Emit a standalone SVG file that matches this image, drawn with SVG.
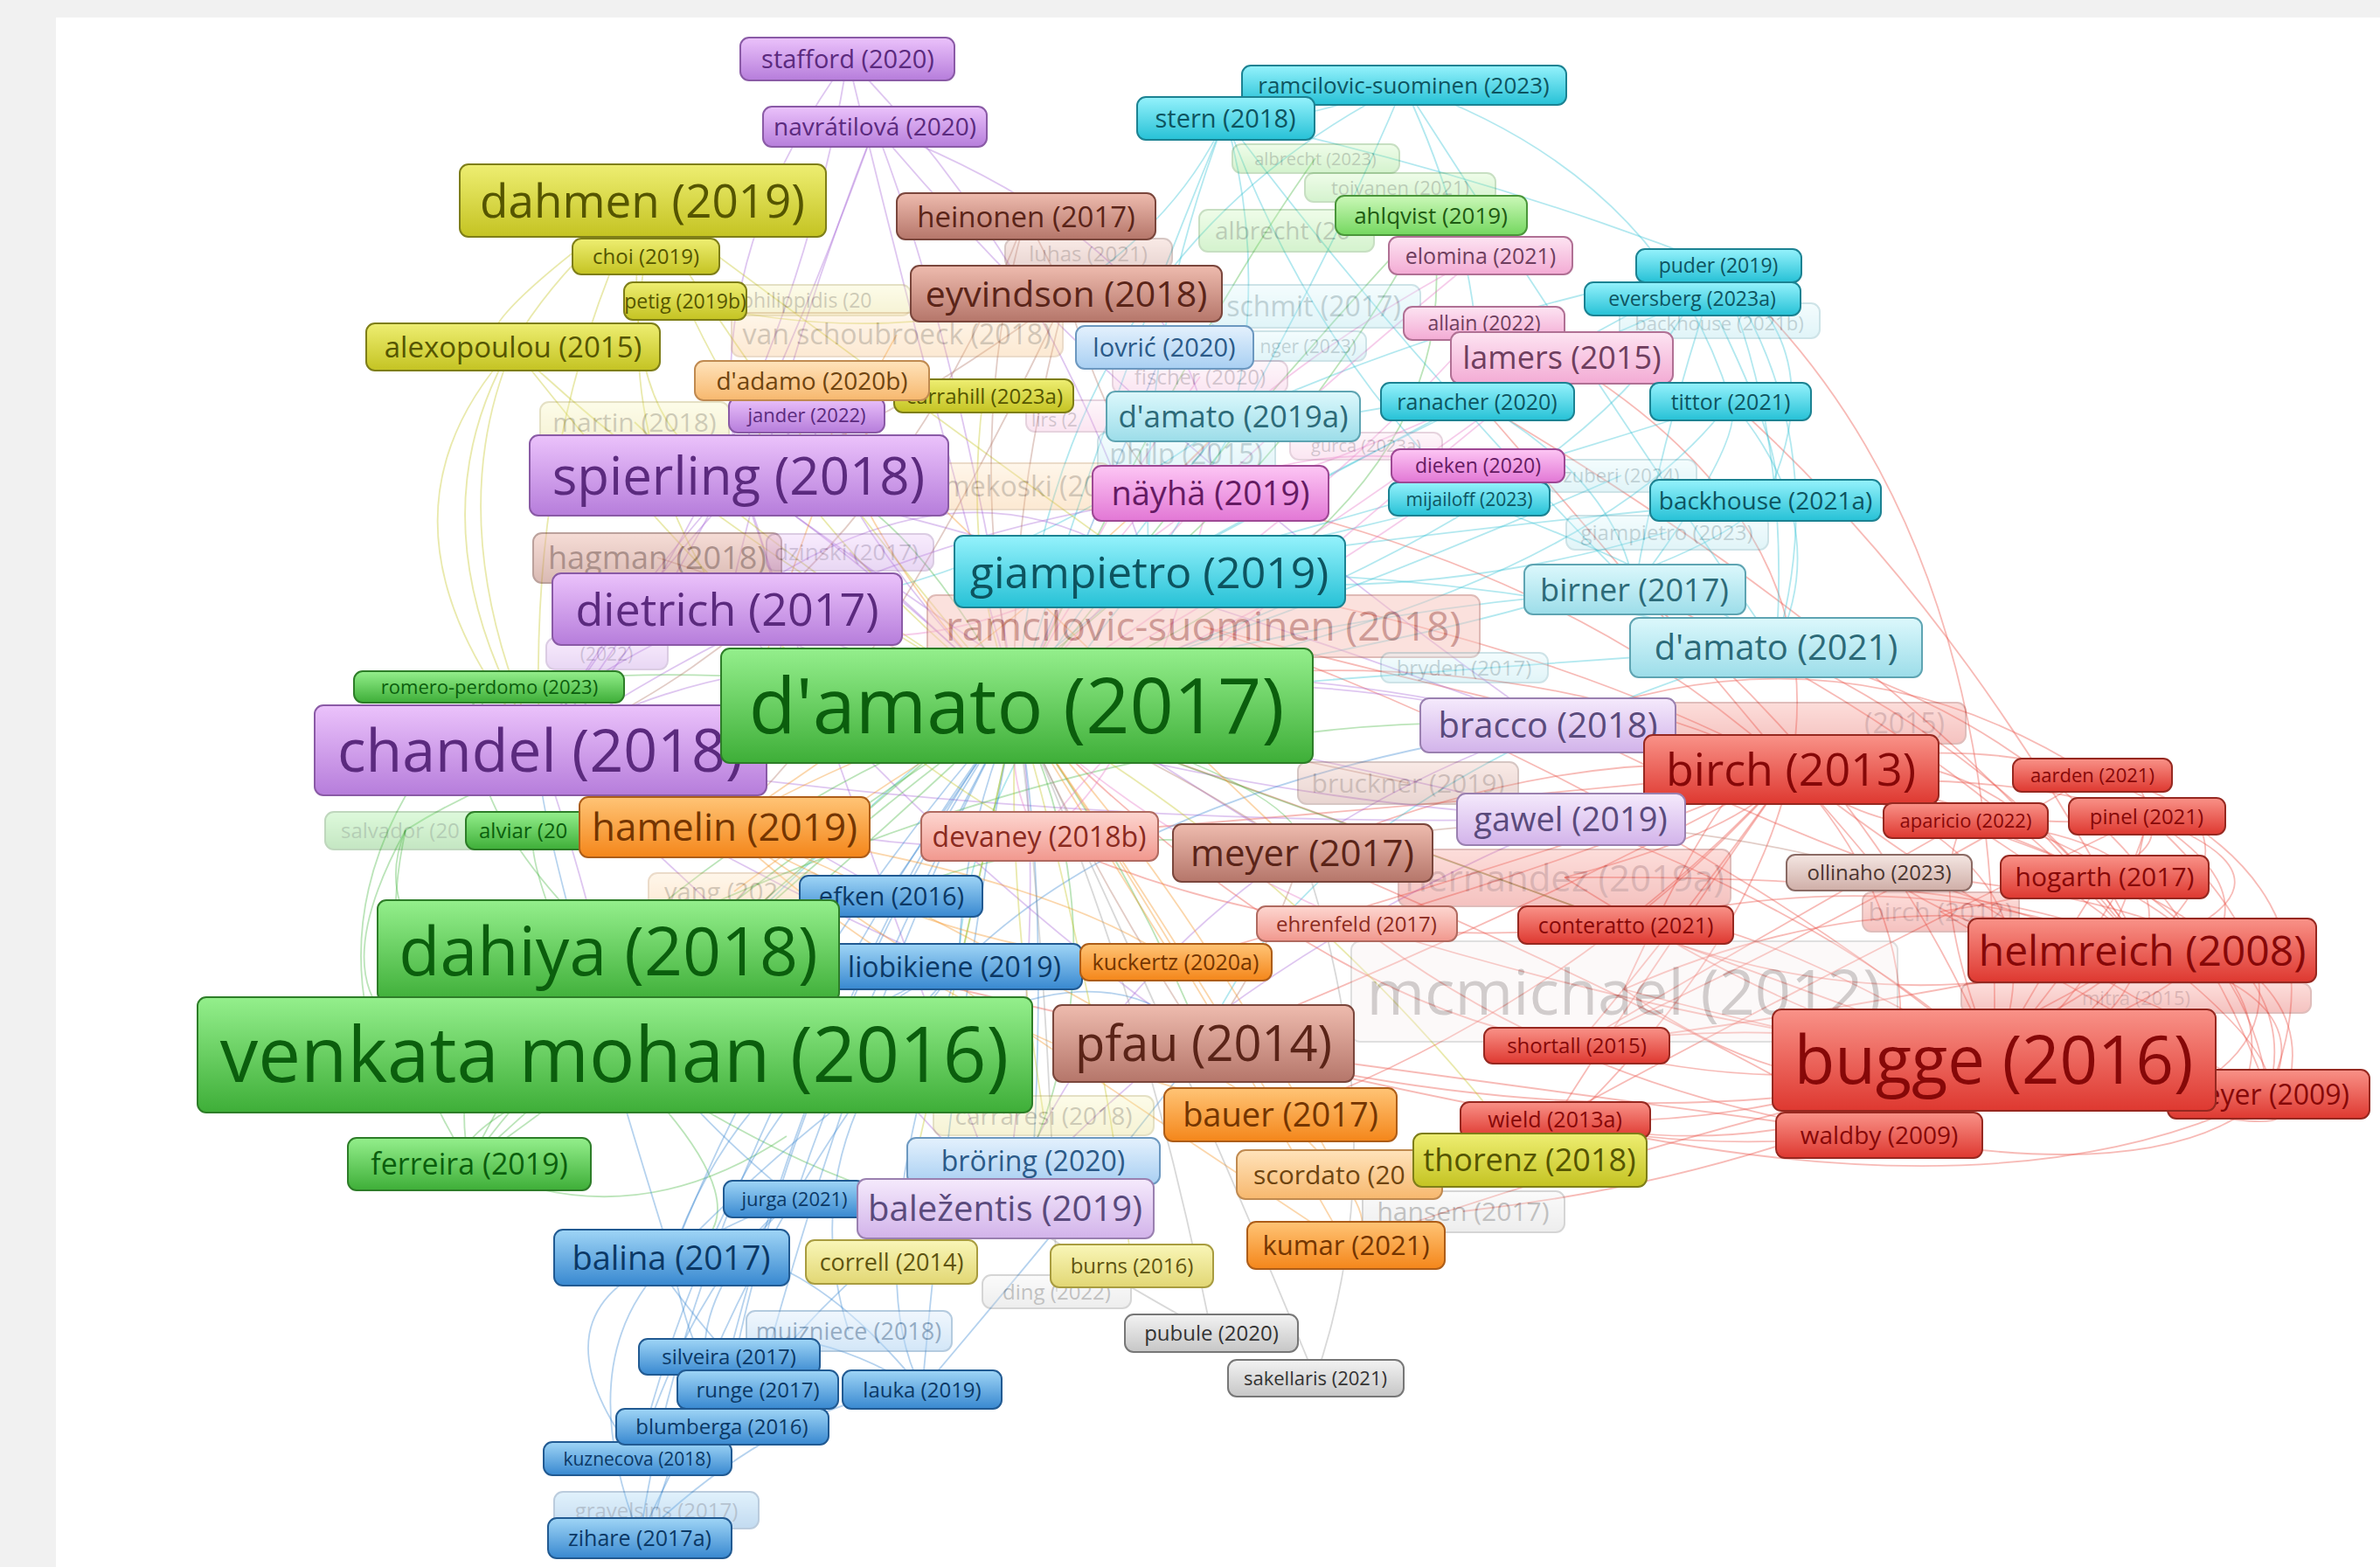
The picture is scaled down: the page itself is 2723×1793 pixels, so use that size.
<svg xmlns="http://www.w3.org/2000/svg" width="2723" height="1793" viewBox="0 0 2723 1793">
<defs>
<linearGradient id="gp" x1="0" y1="0" x2="0" y2="1"><stop offset="0" stop-color="#ebc2fb"/><stop offset="1" stop-color="#b67ddb"/></linearGradient>
<linearGradient id="gg" x1="0" y1="0" x2="0" y2="1"><stop offset="0" stop-color="#94ef8c"/><stop offset="1" stop-color="#3eae38"/></linearGradient>
<linearGradient id="gy" x1="0" y1="0" x2="0" y2="1"><stop offset="0" stop-color="#eeee72"/><stop offset="1" stop-color="#c4c322"/></linearGradient>
<linearGradient id="gn" x1="0" y1="0" x2="0" y2="1"><stop offset="0" stop-color="#eebbae"/><stop offset="1" stop-color="#b5766a"/></linearGradient>
<linearGradient id="gc" x1="0" y1="0" x2="0" y2="1"><stop offset="0" stop-color="#95f2fc"/><stop offset="1" stop-color="#26c1d6"/></linearGradient>
<linearGradient id="gl" x1="0" y1="0" x2="0" y2="1"><stop offset="0" stop-color="#dcf8fc"/><stop offset="1" stop-color="#9cdde9"/></linearGradient>
<linearGradient id="gk" x1="0" y1="0" x2="0" y2="1"><stop offset="0" stop-color="#fde4f2"/><stop offset="1" stop-color="#f3abd4"/></linearGradient>
<linearGradient id="gm" x1="0" y1="0" x2="0" y2="1"><stop offset="0" stop-color="#fdc6f4"/><stop offset="1" stop-color="#e277d5"/></linearGradient>
<linearGradient id="gr" x1="0" y1="0" x2="0" y2="1"><stop offset="0" stop-color="#f99288"/><stop offset="1" stop-color="#de3830"/></linearGradient>
<linearGradient id="go" x1="0" y1="0" x2="0" y2="1"><stop offset="0" stop-color="#ffc476"/><stop offset="1" stop-color="#f4861a"/></linearGradient>
<linearGradient id="gq" x1="0" y1="0" x2="0" y2="1"><stop offset="0" stop-color="#ffe3bb"/><stop offset="1" stop-color="#f7b86e"/></linearGradient>
<linearGradient id="gb" x1="0" y1="0" x2="0" y2="1"><stop offset="0" stop-color="#9fd5f6"/><stop offset="1" stop-color="#3888d0"/></linearGradient>
<linearGradient id="gu" x1="0" y1="0" x2="0" y2="1"><stop offset="0" stop-color="#e4f1fd"/><stop offset="1" stop-color="#a8cff2"/></linearGradient>
<linearGradient id="gv" x1="0" y1="0" x2="0" y2="1"><stop offset="0" stop-color="#f5eafc"/><stop offset="1" stop-color="#d2b3ea"/></linearGradient>
<linearGradient id="gs" x1="0" y1="0" x2="0" y2="1"><stop offset="0" stop-color="#fdd6d0"/><stop offset="1" stop-color="#f1988e"/></linearGradient>
<linearGradient id="gw" x1="0" y1="0" x2="0" y2="1"><stop offset="0" stop-color="#f3f3f3"/><stop offset="1" stop-color="#c6c6c6"/></linearGradient>
<linearGradient id="gh" x1="0" y1="0" x2="0" y2="1"><stop offset="0" stop-color="#cbf8b8"/><stop offset="1" stop-color="#74d75f"/></linearGradient>
<linearGradient id="gt" x1="0" y1="0" x2="0" y2="1"><stop offset="0" stop-color="#f4e6e2"/><stop offset="1" stop-color="#cfaea7"/></linearGradient>
<linearGradient id="gx" x1="0" y1="0" x2="0" y2="1"><stop offset="0" stop-color="#f9f6b8"/><stop offset="1" stop-color="#e2d774"/></linearGradient>
</defs>
<style>
.node rect{stroke-width:2;rx:10px;ry:10px}
.node text{font-family:'Open Sans','Liberation Sans',sans-serif;text-anchor:middle}
.node text.s{text-anchor:start}
.node text.e{text-anchor:end}
.f{opacity:.3}
.h{opacity:.5}
.cp rect{fill:url(#gp);stroke:#8a5aa6}.cp text{fill:#5b2a7e}
.cg rect{fill:url(#gg);stroke:#2d7d28}.cg text{fill:#0b5e0d}
.cy rect{fill:url(#gy);stroke:#7e7e18}.cy text{fill:#555500}
.cn rect{fill:url(#gn);stroke:#7a463c}.cn text{fill:#5a2418}
.cc rect{fill:url(#gc);stroke:#1b8292}.cc text{fill:#0d5460}
.cl rect{fill:url(#gl);stroke:#5ea4b2}.cl text{fill:#2c6a78}
.ck rect{fill:url(#gk);stroke:#b07094}.ck text{fill:#6e3e5e}
.cm rect{fill:url(#gm);stroke:#9e4894}.cm text{fill:#641a62}
.cr rect{fill:url(#gr);stroke:#962820}.cr text{fill:#860808}
.co rect{fill:url(#go);stroke:#ad5d18}.co text{fill:#743500}
.cq rect{fill:url(#gq);stroke:#c08a50}.cq text{fill:#6e4410}
.cb rect{fill:url(#gb);stroke:#215a92}.cb text{fill:#0b3865}
.cu rect{fill:url(#gu);stroke:#6c98c0}.cu text{fill:#2b5a88}
.cv rect{fill:url(#gv);stroke:#9a80b0}.cv text{fill:#5a4a7c}
.cs rect{fill:url(#gs);stroke:#b06a60}.cs text{fill:#8a2a20}
.cw rect{fill:url(#gw);stroke:#777}.cw text{fill:#333}
.ch rect{fill:url(#gh);stroke:#4a963a}.ch text{fill:#1e5a12}
.ct rect{fill:url(#gt);stroke:#8a6a64}.ct text{fill:#4a3530}
.cx rect{fill:url(#gx);stroke:#a89c40}.cx text{fill:#5e5410}
.mc rect{fill:#f8ecec;stroke:#999}.mc text{fill:#6a5a5a}
.rs rect{fill:#f8c4bc;stroke:#c07870}.rs text{fill:#a03a30}
#connectors path{fill:none;stroke-width:1.8}
.er{stroke:#ec5a50;stroke-opacity:.42}
.ec{stroke:#35c2d6;stroke-opacity:.38}
.ep{stroke:#a868d8;stroke-opacity:.38}
.eg{stroke:#4cb848;stroke-opacity:.38}
.eb{stroke:#3c8ad2;stroke-opacity:.38}
.eo{stroke:#f59222;stroke-opacity:.38}
.ey{stroke:#c4c424;stroke-opacity:.38}
.ek{stroke:#e878c8;stroke-opacity:.38}
.en{stroke:#b4786a;stroke-opacity:.38}
.ew{stroke:#999;stroke-opacity:.38}
</style>
<rect width="2723" height="1793" fill="#f1f1f1"/>
<rect x="64" y="20" width="2659" height="1773" fill="#ffffff"/>
<g id="connectors">
<path class="er" d="M2049 880 Q2280 820 2451 1087"/>
<path class="er" d="M2049 880 Q2380 980 2281 1213"/>
<path class="er" d="M2049 880 Q2560 960 2595 1252"/>
<path class="er" d="M2049 880 Q2230 1080 2150 1299"/>
<path class="er" d="M2049 880 Q2250 840 2394 887"/>
<path class="er" d="M2049 880 Q2300 960 2456 934"/>
<path class="er" d="M2049 880 Q1960 980 1860 1058"/>
<path class="er" d="M2049 880 Q1920 1060 1804 1196"/>
<path class="er" d="M2049 880 Q1880 1120 1779 1281"/>
<path class="er" d="M2049 880 Q2150 960 2249 939"/>
<path class="er" d="M2049 880 Q2120 960 2150 998"/>
<path class="er" d="M2049 880 Q2260 940 2408 1003"/>
<path class="er" d="M2451 1087 Q2660 1140 2595 1252"/>
<path class="er" d="M2451 1087 Q2420 1200 2281 1213"/>
<path class="er" d="M2451 1087 Q2320 1260 2150 1299"/>
<path class="er" d="M2451 1087 Q2620 930 2394 887"/>
<path class="er" d="M2451 1087 Q2660 1010 2456 934"/>
<path class="er" d="M2451 1087 Q2180 980 1860 1058"/>
<path class="er" d="M2451 1087 Q2100 1160 1804 1196"/>
<path class="er" d="M2451 1087 Q2500 960 2249 939"/>
<path class="er" d="M2451 1087 Q2120 1300 1779 1281"/>
<path class="er" d="M2281 1213 Q2680 1330 2595 1252"/>
<path class="er" d="M2281 1213 Q2040 1160 1804 1196"/>
<path class="er" d="M2281 1213 Q2020 1340 1779 1281"/>
<path class="er" d="M2281 1213 Q2380 1040 2408 1003"/>
<path class="er" d="M2281 1213 Q2700 1080 2456 934"/>
<path class="er" d="M2281 1213 Q2560 880 2394 887"/>
<path class="er" d="M2281 1213 Q1950 1020 1860 1058"/>
<path class="er" d="M2281 1213 Q2200 1010 2249 939"/>
<path class="er" d="M2150 1299 Q2480 1360 2595 1252"/>
<path class="er" d="M2150 1299 Q1920 1320 1779 1281"/>
<path class="er" d="M2408 1003 Q2640 1100 2595 1252"/>
<path class="er" d="M2249 939 Q2000 1080 1804 1196"/>
<path class="er" d="M2249 939 Q2620 1180 2595 1252"/>
<path class="er" d="M1858 1132 Q2180 990 2451 1087"/>
<path class="er" d="M1858 1132 Q2080 1290 2281 1213"/>
<path class="er" d="M2032 741 Q2320 880 2451 1087"/>
<path class="er" d="M1163 807 Q1680 700 2049 880"/>
<path class="er" d="M1163 807 Q1760 1020 2281 1213"/>
<path class="er" d="M1377 1194 Q1760 1040 2049 880"/>
<path class="er" d="M1377 1194 Q1880 1320 2281 1213"/>
<path class="er" d="M1490 976 Q1780 850 2049 880"/>
<path class="er" d="M1189 957 Q1660 920 2049 880"/>
<path class="er" d="M2394 887 Q2700 1000 2595 1252"/>
<path class="er" d="M2456 934 Q2690 1150 2500 1250"/>
<path class="er" d="M2249 939 Q2650 1080 2560 1262"/>
<path class="er" d="M2150 998 Q2660 1040 2620 1235"/>
<path class="er" d="M1552 1057 Q1820 980 2049 880"/>
<path class="er" d="M1552 1057 Q1950 1180 2281 1213"/>
<path class="er" d="M1804 1196 Q2100 1060 2394 887"/>
<path class="er" d="M1779 1281 Q2150 1080 2456 934"/>
<path class="er" d="M1860 1058 Q2160 1180 2451 1087"/>
<path class="er" d="M2220 1043 Q2400 1150 2595 1252"/>
<path class="er" d="M1385 564 Q1800 650 2049 880"/>
<path class="er" d="M1315 654 Q1750 720 2049 880"/>
<path class="er" d="M1377 717 Q1700 800 2049 880"/>
<path class="er" d="M1377 717 Q1900 900 2281 1213"/>
<path class="er" d="M1690 459 Q1900 700 2049 880"/>
<path class="er" d="M1787 409 Q2100 600 2049 880"/>
<path class="er" d="M1980 459 Q2250 700 2451 1087"/>
<path class="er" d="M1966 304 Q2300 600 2281 1213"/>
<path class="er" d="M1690 459 Q2200 760 2451 1087"/>
<path class="er" d="M1770 820 Q2100 990 2451 1087"/>
<path class="er" d="M1797 937 Q2100 1050 2281 1213"/>
<path class="er" d="M1163 807 Q1500 1150 1804 1196"/>
<path class="er" d="M1465 1275 Q1800 1150 2049 880"/>
<path class="er" d="M1540 1425 Q1900 1300 2281 1213"/>
<path class="er" d="M1750 1327 Q2000 1100 2049 880"/>
<path class="er" d="M1674 1386 Q2000 1350 2281 1213"/>
<path class="er" d="M1089 1130 Q1600 1250 1779 1281"/>
<path class="er" d="M1858 1132 Q2000 820 2049 880"/>
<path class="er" d="M2150 1299 Q2420 1180 2456 934"/>
<path class="er" d="M1858 1132 Q2300 1250 2595 1252"/>
<path class="er" d="M1779 1281 Q2300 1400 2595 1252"/>
<path class="er" d="M1804 1196 Q2200 1300 2451 1087"/>
<path class="er" d="M2032 741 Q2450 850 2595 1252"/>
<path class="er" d="M1870 674 Q2250 850 2451 1087"/>
<path class="er" d="M1870 674 Q2150 900 2281 1213"/>
<path class="er" d="M1771 830 Q2100 700 2394 887"/>
<path class="er" d="M1797 937 Q2200 850 2456 934"/>
<path class="er" d="M1490 976 Q1900 1150 2150 1299"/>
<path class="er" d="M1377 1194 Q1800 1250 2150 1299"/>
<path class="er" d="M1189 957 Q1500 1100 1860 1058"/>
<path class="er" d="M1345 1101 Q1700 1000 2049 880"/>
<path class="er" d="M1552 1057 Q1800 1250 2150 1299"/>
<path class="er" d="M2150 998 Q2300 1100 2451 1087"/>
<path class="er" d="M2220 1043 Q2500 1000 2456 934"/>
<path class="er" d="M2444 1142 Q2600 1200 2281 1213"/>
<path class="er" d="M2444 1142 Q2200 1000 2049 880"/>
<path class="er" d="M1790 1004 Q2000 950 2049 880"/>
<path class="er" d="M1790 1004 Q2100 1200 2281 1213"/>
<path class="er" d="M1790 1004 Q2300 1000 2451 1087"/>
<path class="ec" d="M1402 135 Q1300 400 1315 654"/>
<path class="ec" d="M1402 135 Q1450 300 1411 476"/>
<path class="ec" d="M1402 135 Q1600 400 1870 674"/>
<path class="ec" d="M1402 135 Q1250 500 1163 807"/>
<path class="ec" d="M1606 97 Q1500 350 1315 654"/>
<path class="ec" d="M1606 97 Q1800 400 2032 741"/>
<path class="ec" d="M1606 97 Q1700 300 1690 459"/>
<path class="ec" d="M1966 304 Q1700 450 1315 654"/>
<path class="ec" d="M1966 304 Q2050 500 2032 741"/>
<path class="ec" d="M1966 304 Q1900 500 1870 674"/>
<path class="ec" d="M1936 342 Q1600 500 1411 476"/>
<path class="ec" d="M1936 342 Q1800 600 1163 807"/>
<path class="ec" d="M1980 459 Q1700 550 1315 654"/>
<path class="ec" d="M1980 459 Q2100 600 2032 741"/>
<path class="ec" d="M1980 459 Q1800 700 1163 807"/>
<path class="ec" d="M1690 459 Q1500 550 1315 654"/>
<path class="ec" d="M1690 459 Q1850 550 1870 674"/>
<path class="ec" d="M2020 572 Q1700 600 1315 654"/>
<path class="ec" d="M2020 572 Q1900 700 1163 807"/>
<path class="ec" d="M1681 571 Q1500 620 1315 654"/>
<path class="ec" d="M1681 571 Q1900 650 2032 741"/>
<path class="ec" d="M1870 674 Q1500 700 1163 807"/>
<path class="ec" d="M2032 741 Q1600 770 1163 807"/>
<path class="ec" d="M1411 476 Q1300 600 1163 807"/>
<path class="ec" d="M1907 609 Q1600 700 1315 654"/>
<path class="ec" d="M2032 741 Q2100 500 1966 304"/>
<path class="ec" d="M1855 544 Q1500 700 1163 807"/>
<path class="ec" d="M1315 654 Q1000 900 703 1207"/>
<path class="ec" d="M1315 654 Q1700 650 2032 741"/>
<path class="ec" d="M1967 367 Q2060 560 2020 572"/>
<path class="ec" d="M1606 97 Q1200 300 1163 807"/>
<path class="ec" d="M1402 135 Q1350 250 1220 336"/>
<path class="ec" d="M1606 97 Q1450 150 1402 135"/>
<path class="ec" d="M1315 654 Q1100 900 1097 1106"/>
<path class="ec" d="M1411 476 Q1100 700 832 697"/>
<path class="ec" d="M2032 741 Q1500 900 1377 1194"/>
<path class="ec" d="M1402 135 Q1700 200 1966 304"/>
<path class="ec" d="M1606 97 Q1900 200 1980 459"/>
<path class="ec" d="M1402 135 Q1500 400 1681 571"/>
<path class="ec" d="M2020 572 Q2100 400 1966 304"/>
<path class="ec" d="M1870 674 Q2000 500 1980 459"/>
<path class="ec" d="M1411 476 Q1700 350 1966 304"/>
<path class="ep" d="M970 67 Q1050 400 1163 807"/>
<path class="ep" d="M970 67 Q800 300 845 544"/>
<path class="ep" d="M970 67 Q1200 300 1315 654"/>
<path class="ep" d="M1001 145 Q1100 400 1163 807"/>
<path class="ep" d="M1001 145 Q900 400 832 697"/>
<path class="ep" d="M1001 145 Q1300 500 1771 830"/>
<path class="ep" d="M845 544 Q1000 650 1163 807"/>
<path class="ep" d="M845 544 Q700 700 618 858"/>
<path class="ep" d="M845 544 Q1300 650 1771 830"/>
<path class="ep" d="M832 697 Q1000 750 1163 807"/>
<path class="ep" d="M832 697 Q1200 900 1797 937"/>
<path class="ep" d="M618 858 Q900 700 1163 807"/>
<path class="ep" d="M618 858 Q900 1100 1150 1383"/>
<path class="ep" d="M618 858 Q1200 950 1797 937"/>
<path class="ep" d="M618 858 Q1300 700 1771 830"/>
<path class="ep" d="M1150 1383 Q1200 1000 1163 807"/>
<path class="ep" d="M1771 830 Q1450 750 1163 807"/>
<path class="ep" d="M1797 937 Q1450 850 1163 807"/>
<path class="ep" d="M923 475 Q1000 650 1163 807"/>
<path class="ep" d="M845 544 Q1000 1000 1150 1383"/>
<path class="ep" d="M618 858 Q700 1100 703 1207"/>
<path class="ep" d="M832 697 Q600 800 618 858"/>
<path class="ep" d="M972 632 Q1050 700 1163 807"/>
<path class="ep" d="M832 697 Q1100 500 1315 654"/>
<path class="ep" d="M618 858 Q850 1000 1089 1106"/>
<path class="ep" d="M618 858 Q820 900 1019 1025"/>
<path class="ep" d="M845 544 Q950 800 829 946"/>
<path class="ep" d="M618 858 Q1000 600 1385 564"/>
<path class="ep" d="M845 544 Q1200 800 1490 976"/>
<path class="ep" d="M832 697 Q1100 1000 1377 1194"/>
<path class="ep" d="M1001 145 Q800 700 618 858"/>
<path class="ep" d="M1771 830 Q1300 1000 1150 1383"/>
<path class="ep" d="M923 475 Q700 700 618 858"/>
<path class="ep" d="M970 67 Q900 500 618 858"/>
<path class="ep" d="M1001 145 Q1400 300 1385 564"/>
<path class="ep" d="M1797 937 Q1400 1100 1150 1383"/>
<path class="ep" d="M618 858 Q1000 1000 1189 957"/>
<path class="eg" d="M1163 807 Q900 1000 703 1207"/>
<path class="eg" d="M1163 807 Q900 900 696 1088"/>
<path class="eg" d="M1163 807 Q700 1100 537 1332"/>
<path class="eg" d="M1163 807 Q800 750 560 786"/>
<path class="eg" d="M696 1088 Q600 1200 537 1332"/>
<path class="eg" d="M703 1207 Q500 1300 537 1332"/>
<path class="eg" d="M703 1207 Q400 1100 464 950"/>
<path class="eg" d="M703 1207 Q600 1000 610 950"/>
<path class="eg" d="M696 1088 Q500 900 560 786"/>
<path class="eg" d="M1163 807 Q1400 500 1637 246"/>
<path class="eg" d="M1163 807 Q1300 1000 1377 1194"/>
<path class="eg" d="M1163 807 Q1300 1100 1150 1383"/>
<path class="eg" d="M703 1207 Q1000 1400 1150 1383"/>
<path class="eg" d="M703 1207 Q900 1400 768 1439"/>
<path class="eg" d="M1163 807 Q1100 1100 1097 1106"/>
<path class="eg" d="M537 1332 Q500 1150 696 1088"/>
<path class="eg" d="M537 1332 Q800 1150 1163 807"/>
<path class="eg" d="M1163 807 Q1500 900 1490 976"/>
<path class="eg" d="M1637 246 Q1500 500 1315 654"/>
<path class="eg" d="M1505 181 Q1350 400 1163 807"/>
<path class="eg" d="M1163 807 Q1700 1000 1860 1058"/>
<path class="eg" d="M560 786 Q350 1000 440 1230"/>
<path class="eg" d="M537 1332 Q720 1420 900 1300"/>
<path class="eg" d="M464 950 Q420 1150 537 1332"/>
<path class="eg" d="M696 1088 Q1300 800 1771 830"/>
<path class="eg" d="M703 1207 Q1100 900 1490 976"/>
<path class="eg" d="M1163 807 Q1000 500 845 544"/>
<path class="eg" d="M537 1332 Q900 1000 1315 654"/>
<path class="eg" d="M1637 246 Q1700 600 1163 807"/>
<path class="eg" d="M464 950 Q700 800 1163 807"/>
<path class="eg" d="M703 1207 Q300 1250 464 950"/>
<path class="eb" d="M768 1439 Q900 1100 1163 807"/>
<path class="eb" d="M768 1439 Q850 1200 1097 1106"/>
<path class="eb" d="M834 1552 Q950 1100 1163 807"/>
<path class="eb" d="M867 1590 Q1000 1100 1163 807"/>
<path class="eb" d="M1055 1590 Q1100 1100 1163 807"/>
<path class="eb" d="M826 1632 Q900 1200 1163 807"/>
<path class="eb" d="M729 1669 Q850 1200 1097 1106"/>
<path class="eb" d="M732 1760 Q800 1300 1163 807"/>
<path class="eb" d="M909 1372 Q1000 1100 1163 807"/>
<path class="eb" d="M1013 1025 Q1100 900 1163 807"/>
<path class="eb" d="M1097 1106 Q1100 950 1163 807"/>
<path class="eb" d="M768 1439 Q800 1600 834 1552"/>
<path class="eb" d="M971 1523 Q900 1300 1097 1106"/>
<path class="eb" d="M751 1728 Q850 1400 1097 1106"/>
<path class="eb" d="M867 1590 Q700 1400 768 1439"/>
<path class="eb" d="M729 1669 Q800 1450 909 1372"/>
<path class="eb" d="M1055 1590 Q900 1400 768 1439"/>
<path class="eb" d="M732 1760 Q650 1550 768 1439"/>
<path class="eb" d="M826 1632 Q1000 1400 1182 1328"/>
<path class="eb" d="M1182 1328 Q1200 1000 1163 807"/>
<path class="eb" d="M1332 398 Q1250 600 1163 807"/>
<path class="eb" d="M768 1439 Q1000 1300 1150 1383"/>
<path class="eb" d="M768 1439 Q600 900 618 858"/>
<path class="eb" d="M834 1552 Q760 1700 732 1760"/>
<path class="eb" d="M1055 1590 Q980 1450 1097 1106"/>
<path class="eb" d="M1097 1106 Q1300 900 1771 830"/>
<path class="eb" d="M768 1439 Q1200 1000 1377 1194"/>
<path class="eb" d="M909 1372 Q700 1200 696 1088"/>
<path class="eb" d="M1055 1590 Q1300 1300 1377 1194"/>
<path class="eb" d="M729 1669 Q600 1500 768 1439"/>
<path class="eb" d="M834 1552 Q900 1500 1055 1590"/>
<path class="eb" d="M732 1760 Q900 1600 1055 1590"/>
<path class="eb" d="M826 1632 Q760 1500 909 1372"/>
<path class="eo" d="M829 946 Q1000 850 1163 807"/>
<path class="eo" d="M829 946 Q1100 1200 1465 1275"/>
<path class="eo" d="M1465 1275 Q1300 1000 1163 807"/>
<path class="eo" d="M1540 1425 Q1300 1000 1163 807"/>
<path class="eo" d="M1345 1101 Q1250 950 1163 807"/>
<path class="eo" d="M929 436 Q1000 650 1163 807"/>
<path class="eo" d="M1532 1344 Q1350 1000 1163 807"/>
<path class="eo" d="M829 946 Q1100 1100 1345 1101"/>
<path class="eo" d="M1026 383 Q900 600 829 946"/>
<path class="eo" d="M840 1020 Q1000 900 1163 807"/>
<path class="eo" d="M1465 1275 Q1600 1400 1540 1425"/>
<path class="eo" d="M829 946 Q1200 700 1411 476"/>
<path class="eo" d="M929 436 Q1200 700 1490 976"/>
<path class="eo" d="M1465 1275 Q1000 1000 829 946"/>
<path class="eo" d="M1345 1101 Q1200 1000 829 946"/>
<path class="eo" d="M1540 1425 Q1200 1200 829 946"/>
<path class="ey" d="M735 229 Q600 500 618 858"/>
<path class="ey" d="M735 229 Q900 500 1163 807"/>
<path class="ey" d="M735 229 Q700 500 845 544"/>
<path class="ey" d="M587 397 Q500 600 618 858"/>
<path class="ey" d="M587 397 Q800 600 1163 807"/>
<path class="ey" d="M739 293 Q700 500 832 697"/>
<path class="ey" d="M784 344 Q900 600 1163 807"/>
<path class="ey" d="M1750 1327 Q1500 1000 1163 807"/>
<path class="ey" d="M1020 1444 Q1100 1100 1163 807"/>
<path class="ey" d="M1295 1448 Q1250 1100 1163 807"/>
<path class="ey" d="M726 483 Q900 650 1163 807"/>
<path class="ey" d="M1125 453 Q1100 650 1163 807"/>
<path class="ey" d="M735 229 Q500 400 587 397"/>
<path class="ey" d="M587 397 Q400 600 618 858"/>
<path class="ey" d="M1194 1276 Q1150 1000 1163 807"/>
<path class="ey" d="M735 229 Q1100 500 1315 654"/>
<path class="ey" d="M587 397 Q900 800 1189 957"/>
<path class="ey" d="M784 344 Q1000 400 1220 336"/>
<path class="ey" d="M735 229 Q400 500 618 858"/>
<path class="ek" d="M1787 409 Q1500 550 1385 564"/>
<path class="ek" d="M1787 409 Q1400 700 1163 807"/>
<path class="ek" d="M1694 292 Q1500 450 1385 564"/>
<path class="ek" d="M1691 533 Q1500 500 1385 564"/>
<path class="ek" d="M1698 370 Q1500 600 1163 807"/>
<path class="ek" d="M1385 564 Q1250 700 1163 807"/>
<path class="ek" d="M1691 533 Q1400 750 1163 807"/>
<path class="ek" d="M1189 957 Q1150 900 1163 807"/>
<path class="ek" d="M1552 1057 Q1300 950 1163 807"/>
<path class="ek" d="M1373 431 Q1250 600 1163 807"/>
<path class="ek" d="M1385 564 Q1100 800 832 697"/>
<path class="ek" d="M1385 564 Q1300 900 1189 957"/>
<path class="ek" d="M1787 409 Q1300 800 1189 957"/>
<path class="ek" d="M1694 292 Q1300 500 1163 807"/>
<path class="en" d="M1174 247 Q1100 500 1163 807"/>
<path class="en" d="M1220 336 Q1150 600 1163 807"/>
<path class="en" d="M1174 247 Q1200 300 1220 336"/>
<path class="en" d="M1490 976 Q1300 850 1163 807"/>
<path class="en" d="M1377 1194 Q1250 1000 1163 807"/>
<path class="en" d="M752 638 Q950 700 1163 807"/>
<path class="en" d="M1220 336 Q1000 500 845 544"/>
<path class="en" d="M1377 1194 Q1450 1100 1490 976"/>
<path class="en" d="M1611 896 Q1400 850 1163 807"/>
<path class="en" d="M2150 998 Q1800 900 1490 976"/>
<path class="en" d="M1220 336 Q1300 600 1385 564"/>
<path class="en" d="M1220 336 Q1000 800 829 946"/>
<path class="en" d="M1174 247 Q1000 700 618 858"/>
<path class="ew" d="M1386 1525 Q1300 1100 1163 807"/>
<path class="ew" d="M1505 1577 Q1350 1200 1163 807"/>
<path class="ew" d="M1209 1478 Q1200 1100 1163 807"/>
<path class="ew" d="M1386 1525 Q1250 1450 1150 1383"/>
<path class="ew" d="M1505 1577 Q1600 1300 1490 976"/>
</g>
<g id="nodes">
<g id="n-albrecht-2023" class="node ch f"><rect x="1410" y="165" width="191" height="33"/><text x="1505" y="189" font-size="20">albrecht (2023)</text></g>
<g id="n-toivanen-2021" class="node ch f"><rect x="1493" y="198" width="218" height="33"/><text x="1602" y="223" font-size="22">toivanen (2021)</text></g>
<g id="n-albrecht-20" class="node ch f"><rect x="1372" y="240" width="200" height="48"/><text class="s" x="1390" y="274" font-size="28">albrecht (20</text></g>
<g id="n-luhas-2021" class="node cn f"><rect x="1150" y="273" width="191" height="34"/><text x="1245" y="299" font-size="24">luhas (2021)</text></g>
<g id="n-schmit-2017" class="node cl f"><rect x="1385" y="326" width="240" height="49"/><text x="1503" y="362" font-size="32">schmit (2017)</text></g>
<g id="n-philippidis" class="node cx f"><rect x="835" y="326" width="207" height="35"/><text class="s" x="848" y="352" font-size="23">philippidis (20</text></g>
<g id="n-van-schoubroeck-2018" class="node cq f"><rect x="837" y="358" width="379" height="50"/><text x="1026" y="394" font-size="32">van schoubroeck (2018)</text></g>
<g id="n-nger-2023" class="node cl f"><rect x="1380" y="379" width="183" height="34"/><text class="e" x="1552" y="404" font-size="21">nger (2023)</text></g>
<g id="n-backhouse-2021b" class="node cl f"><rect x="1853" y="347" width="229" height="40"/><text x="1967" y="378" font-size="22">backhouse (2021b)</text></g>
<g id="n-fischer-2020" class="node ck f"><rect x="1273" y="413" width="200" height="37"/><text x="1373" y="440" font-size="24">fischer (2020)</text></g>
<g id="n-lirs" class="node ck f"><rect x="1174" y="458" width="120" height="36"/><text class="s" x="1180" y="488" font-size="21">lirs (2</text></g>
<g id="n-martin-2018" class="node cx f"><rect x="618" y="460" width="216" height="47"/><text x="726" y="494" font-size="30">martin (2018)</text></g>
<g id="n-x-2022" class="node cp f"><rect x="625" y="730" width="139" height="36"/><text x="694" y="756" font-size="21">(2022)</text></g>
<g id="n-philp-2015" class="node cl f"><rect x="1256" y="495" width="203" height="49"/><text x="1357" y="531" font-size="32">philp (2015)</text></g>
<g id="n-gurca-2023a" class="node ck f"><rect x="1476" y="495" width="174" height="31"/><text x="1563" y="517" font-size="20">gurca (2023a)</text></g>
<g id="n-mekoski" class="node cq f"><rect x="1060" y="530" width="210" height="53"/><text class="s" x="1080" y="568" font-size="32">mekoski (20</text></g>
<g id="n-zuberi-2024" class="node cl f"><rect x="1770" y="526" width="171" height="37"/><text x="1855" y="552" font-size="22">zuberi (2024)</text></g>
<g id="n-giampietro-2023" class="node cl f"><rect x="1792" y="590" width="231" height="39"/><text x="1907" y="618" font-size="24">giampietro (2023)</text></g>
<g id="n-hagman-2018" class="node cn h"><rect x="610" y="610" width="284" height="57"/><text x="752" y="651" font-size="36">hagman (2018)</text></g>
<g id="n-dzinski-2017" class="node cp f"><rect x="877" y="611" width="191" height="42"/><text class="s" x="886" y="641" font-size="26">dzinski (2017)</text></g>
<g id="n-ramcilovic-suominen-2018" class="node rs h"><rect x="1061" y="681" width="632" height="71"/><text x="1377" y="733" font-size="46">ramcilovic-suominen (2018)</text></g>
<g id="n-bryden-2017" class="node cl f"><rect x="1580" y="747" width="191" height="34"/><text x="1675" y="773" font-size="24">bryden (2017)</text></g>
<g id="n-x-2015" class="node cr f"><rect x="1902" y="804" width="347" height="47"/><text class="e" x="2225" y="839" font-size="32">(2015)</text></g>
<g id="n-bruckner-2019" class="node cn f"><rect x="1485" y="872" width="252" height="48"/><text x="1611" y="907" font-size="30">bruckner (2019)</text></g>
<g id="n-salvador" class="node cg f"><rect x="372" y="929" width="184" height="43"/><text class="s" x="390" y="959" font-size="24">salvador (20</text></g>
<g id="n-hernandez-2019a" class="node cr f"><rect x="1600" y="972" width="380" height="65"/><text x="1790" y="1020" font-size="42">hernandez (2019a)</text></g>
<g id="n-yang" class="node cq f"><rect x="742" y="999" width="196" height="43"/><text class="s" x="760" y="1031" font-size="29">yang (202</text></g>
<g id="n-birch-2012" class="node cr f"><rect x="2131" y="1021" width="179" height="45"/><text x="2220" y="1054" font-size="30">birch (2012)</text></g>
<g id="n-mcmichael-2012" class="node mc f"><rect x="1546" y="1077" width="625" height="115"/><text x="1858" y="1161" font-size="72">mcmichael (2012)</text></g>
<g id="n-mitra-2015" class="node cr f"><rect x="2244" y="1125" width="400" height="34"/><text x="2444" y="1150" font-size="22">mitra (2015)</text></g>
<g id="n-carraresi-2018" class="node cx f"><rect x="1068" y="1254" width="252" height="45"/><text x="1194" y="1287" font-size="28">carraresi (2018)</text></g>
<g id="n-hansen-2017" class="node cw f"><rect x="1559" y="1363" width="231" height="47"/><text x="1674" y="1397" font-size="30">hansen (2017)</text></g>
<g id="n-ding-2022" class="node cw f"><rect x="1124" y="1459" width="170" height="38"/><text x="1209" y="1487" font-size="24">ding (2022)</text></g>
<g id="n-gravelsins-2017" class="node cb f"><rect x="634" y="1707" width="234" height="42"/><text x="751" y="1737" font-size="24">gravelsins (2017)</text></g>
<g id="n-muizniece-2018" class="node cu h"><rect x="854" y="1500" width="235" height="46"/><text x="971" y="1533" font-size="27">muizniece (2018)</text></g>

<g id="n-stafford-2020" class="node cp"><rect x="847" y="43" width="245" height="49"/><text x="970" y="78" font-size="29">stafford (2020)</text></g>
<g id="n-navratilova-2020" class="node cp"><rect x="873" y="122" width="256" height="46"/><text x="1001" y="155" font-size="28">navrátilová (2020)</text></g>
<g id="n-ramcilovic-suominen-2023" class="node cc"><rect x="1421" y="75" width="371" height="45"/><text x="1606" y="107" font-size="26">ramcilovic-suominen (2023)</text></g>
<g id="n-stern-2018" class="node cc"><rect x="1301" y="111" width="203" height="49"/><text x="1402" y="146" font-size="29">stern (2018)</text></g>
<g id="n-ahlqvist-2019" class="node ch"><rect x="1528" y="224" width="219" height="45"/><text x="1637" y="256" font-size="26">ahlqvist (2019)</text></g>
<g id="n-heinonen-2017" class="node cn"><rect x="1026" y="221" width="296" height="53"/><text x="1174" y="260" font-size="33">heinonen (2017)</text></g>
<g id="n-dahmen-2019" class="node cy"><rect x="526" y="188" width="419" height="83"/><text x="735" y="249" font-size="53">dahmen (2019)</text></g>
<g id="n-choi-2019" class="node cy"><rect x="655" y="273" width="168" height="41"/><text x="739" y="302" font-size="24">choi (2019)</text></g>
<g id="n-elomina-2021" class="node ck"><rect x="1589" y="271" width="210" height="43"/><text x="1694" y="302" font-size="25">elomina (2021)</text></g>
<g id="n-eyvindson-2018" class="node cn"><rect x="1042" y="304" width="356" height="64"/><text x="1220" y="351" font-size="41">eyvindson (2018)</text></g>
<g id="n-eversberg-2023a" class="node cc"><rect x="1813" y="323" width="247" height="38"/><text x="1936" y="350" font-size="23">eversberg (2023a)</text></g>
<g id="n-puder-2019" class="node cc"><rect x="1872" y="285" width="189" height="38"/><text x="1966" y="312" font-size="23">puder (2019)</text></g>
<g id="n-allain-2022" class="node ck"><rect x="1606" y="351" width="184" height="38"/><text x="1698" y="378" font-size="23">allain (2022)</text></g>
<g id="n-lamers-2015" class="node ck"><rect x="1660" y="380" width="254" height="59"/><text x="1787" y="422" font-size="36">lamers (2015)</text></g>
<g id="n-petig-2019b" class="node cy"><rect x="714" y="323" width="140" height="43"/><text x="784" y="353" font-size="23">petig (2019b)</text></g>
<g id="n-alexopoulou-2015" class="node cy"><rect x="419" y="370" width="336" height="54"/><text x="587" y="409" font-size="33">alexopoulou (2015)</text></g>
<g id="n-lovric-2020" class="node cu"><rect x="1231" y="373" width="203" height="49"/><text x="1332" y="408" font-size="29">lovrić (2020)</text></g>
<g id="n-carrahill-2023a" class="node cy"><rect x="1023" y="434" width="205" height="38"/><text class="e" x="1216" y="462" font-size="24">carrahill (2023a)</text></g>
<g id="n-jander-2022" class="node cp"><rect x="834" y="455" width="178" height="40"/><text x="923" y="483" font-size="22">jander (2022)</text></g>
<g id="n-dadamo-2020b" class="node cq"><rect x="795" y="413" width="268" height="45"/><text x="929" y="446" font-size="28">d'adamo (2020b)</text></g>
<g id="n-damato-2019a" class="node cl"><rect x="1266" y="448" width="290" height="57"/><text x="1411" y="489" font-size="35">d'amato (2019a)</text></g>
<g id="n-ranacher-2020" class="node cc"><rect x="1580" y="438" width="221" height="43"/><text x="1690" y="469" font-size="25">ranacher (2020)</text></g>
<g id="n-tittor-2021" class="node cc"><rect x="1888" y="438" width="184" height="43"/><text x="1980" y="469" font-size="25">tittor (2021)</text></g>
<g id="n-spierling-2018" class="node cp"><rect x="606" y="498" width="479" height="92"/><text x="845" y="566" font-size="60">spierling (2018)</text></g>
<g id="n-nayha-2019" class="node cm"><rect x="1250" y="533" width="270" height="63"/><text x="1385" y="578" font-size="38">näyhä (2019)</text></g>
<g id="n-mijailoff-2023" class="node cc"><rect x="1589" y="552" width="184" height="38"/><text x="1681" y="579" font-size="21">mijailoff (2023)</text></g>
<g id="n-dieken-2020" class="node cm"><rect x="1592" y="514" width="198" height="38"/><text x="1691" y="541" font-size="23">dieken (2020)</text></g>
<g id="n-backhouse-2021a" class="node cc"><rect x="1888" y="549" width="264" height="47"/><text x="2020" y="583" font-size="28">backhouse (2021a)</text></g>
<g id="n-dietrich-2017" class="node cp"><rect x="632" y="656" width="400" height="82"/><text x="832" y="716" font-size="52">dietrich (2017)</text></g>
<g id="n-giampietro-2019" class="node cc"><rect x="1092" y="613" width="447" height="82"/><text x="1315" y="673" font-size="50">giampietro (2019)</text></g>
<g id="n-birner-2017" class="node cl"><rect x="1744" y="646" width="253" height="57"/><text x="1870" y="688" font-size="36">birner (2017)</text></g>
<g id="n-damato-2021" class="node cl"><rect x="1865" y="707" width="334" height="68"/><text x="2032" y="755" font-size="40">d'amato (2021)</text></g>
<g id="n-romero-perdomo-2023" class="node cg"><rect x="405" y="768" width="309" height="36"/><text x="560" y="794" font-size="22">romero-perdomo (2023)</text></g>
<g id="n-chandel-2018" class="node cp"><rect x="360" y="807" width="517" height="103"/><text x="618" y="883" font-size="68">chandel (2018)</text></g>
<g id="n-damato-2017" class="node cg"><rect x="825" y="742" width="677" height="131"/><text x="1163" y="839" font-size="88">d'amato (2017)</text></g>
<g id="n-bracco-2018" class="node cv"><rect x="1625" y="799" width="292" height="62"/><text x="1771" y="844" font-size="40">bracco (2018)</text></g>
<g id="n-birch-2013" class="node cr"><rect x="1881" y="841" width="337" height="79"/><text x="2049" y="899" font-size="52">birch (2013)</text></g>
<g id="n-gawel-2019" class="node cv"><rect x="1667" y="908" width="261" height="59"/><text x="1797" y="951" font-size="38">gawel (2019)</text></g>
<g id="n-aarden-2021" class="node cr"><rect x="2303" y="868" width="182" height="38"/><text x="2394" y="895" font-size="22">aarden (2021)</text></g>
<g id="n-aparicio-2022" class="node cr"><rect x="2155" y="919" width="188" height="40"/><text x="2249" y="947" font-size="22">aparicio (2022)</text></g>
<g id="n-pinel-2021" class="node cr"><rect x="2367" y="913" width="179" height="42"/><text x="2456" y="943" font-size="24">pinel (2021)</text></g>
<g id="n-alviar" class="node cg"><rect x="533" y="929" width="170" height="43"/><text class="s" x="548" y="959" font-size="24">alviar (20</text></g>
<g id="n-hamelin-2019" class="node co"><rect x="663" y="912" width="332" height="69"/><text x="829" y="962" font-size="44">hamelin (2019)</text></g>
<g id="n-devaney-2018b" class="node cs"><rect x="1054" y="929" width="271" height="56"/><text x="1189" y="969" font-size="32">devaney (2018b)</text></g>
<g id="n-meyer-2017" class="node cn"><rect x="1342" y="943" width="297" height="66"/><text x="1490" y="991" font-size="42">meyer (2017)</text></g>
<g id="n-ollinaho-2023" class="node ct"><rect x="2044" y="978" width="212" height="41"/><text x="2150" y="1007" font-size="24">ollinaho (2023)</text></g>
<g id="n-hogarth-2017" class="node cr"><rect x="2289" y="979" width="238" height="49"/><text x="2408" y="1014" font-size="30">hogarth (2017)</text></g>
<g id="n-efken-2016" class="node cb"><rect x="915" y="1002" width="209" height="47"/><text x="1020" y="1036" font-size="29">efken (2016)</text></g>
<g id="n-ehrenfeld-2017" class="node cs"><rect x="1438" y="1037" width="229" height="40"/><text x="1552" y="1066" font-size="24">ehrenfeld (2017)</text></g>
<g id="n-conteratto-2021" class="node cr"><rect x="1737" y="1037" width="246" height="43"/><text x="1860" y="1068" font-size="25">conteratto (2021)</text></g>
<g id="n-helmreich-2008" class="node cr"><rect x="2252" y="1051" width="398" height="73"/><text x="2451" y="1105" font-size="48">helmreich (2008)</text></g>
<g id="n-liobikiene-2019" class="node cb"><rect x="943" y="1080" width="295" height="52"/><text x="1092" y="1118" font-size="32">liobikiene (2019)</text></g>
<g id="n-dahiya-2018" class="node cg"><rect x="432" y="1030" width="528" height="116"/><text x="696" y="1116" font-size="77">dahiya (2018)</text></g>
<g id="n-kuckertz-2020a" class="node co"><rect x="1236" y="1080" width="219" height="42"/><text x="1345" y="1110" font-size="25">kuckertz (2020a)</text></g>
<g id="n-venkata-mohan-2016" class="node cg"><rect x="226" y="1141" width="955" height="132"/><text x="703" y="1238" font-size="87">venkata mohan (2016)</text></g>
<g id="n-pfau-2014" class="node cn"><rect x="1205" y="1150" width="344" height="88"/><text x="1377" y="1214" font-size="56">pfau (2014)</text></g>
<g id="n-shortall-2015" class="node cr"><rect x="1698" y="1176" width="212" height="41"/><text x="1804" y="1205" font-size="24">shortall (2015)</text></g>
<g id="n-meyer-2009" class="node cr"><rect x="2480" y="1224" width="231" height="56"/><text class="e" x="2688" y="1264" font-size="32">meyer (2009)</text></g>
<g id="n-bugge-2016" class="node cr"><rect x="2028" y="1155" width="507" height="116"/><text x="2281" y="1240" font-size="76">bugge (2016)</text></g>
<g id="n-wield-2013a" class="node cr"><rect x="1671" y="1261" width="217" height="41"/><text x="1779" y="1290" font-size="25">wield (2013a)</text></g>
<g id="n-waldby-2009" class="node cr"><rect x="2032" y="1273" width="236" height="52"/><text x="2150" y="1309" font-size="28">waldby (2009)</text></g>
<g id="n-bauer-2017" class="node co"><rect x="1332" y="1245" width="266" height="61"/><text x="1465" y="1289" font-size="38">bauer (2017)</text></g>
<g id="n-ferreira-2019" class="node cg"><rect x="398" y="1302" width="278" height="60"/><text x="537" y="1344" font-size="34">ferreira (2019)</text></g>
<g id="n-broring-2020" class="node cu"><rect x="1038" y="1302" width="289" height="53"/><text x="1182" y="1340" font-size="32">bröring (2020)</text></g>
<g id="n-scordato" class="node cq"><rect x="1415" y="1316" width="235" height="56"/><text class="s" x="1434" y="1355" font-size="30">scordato (20</text></g>
<g id="n-thorenz-2018" class="node cy"><rect x="1617" y="1297" width="267" height="61"/><text x="1750" y="1340" font-size="36">thorenz (2018)</text></g>
<g id="n-jurga-2021" class="node cb"><rect x="828" y="1351" width="162" height="42"/><text x="909" y="1380" font-size="22">jurga (2021)</text></g>
<g id="n-balezentis-2019" class="node cv"><rect x="981" y="1349" width="339" height="68"/><text x="1150" y="1397" font-size="40">baležentis (2019)</text></g>
<g id="n-balina-2017" class="node cb"><rect x="634" y="1407" width="269" height="64"/><text x="768" y="1453" font-size="38">balina (2017)</text></g>
<g id="n-correll-2014" class="node cx"><rect x="922" y="1419" width="196" height="50"/><text x="1020" y="1454" font-size="27">correll (2014)</text></g>
<g id="n-kumar-2021" class="node co"><rect x="1427" y="1398" width="226" height="54"/><text x="1540" y="1436" font-size="31">kumar (2021)</text></g>
<g id="n-burns-2016" class="node cx"><rect x="1202" y="1424" width="186" height="49"/><text x="1295" y="1457" font-size="24">burns (2016)</text></g>
<g id="n-pubule-2020" class="node cw"><rect x="1287" y="1504" width="198" height="43"/><text x="1386" y="1534" font-size="24">pubule (2020)</text></g>
<g id="n-silveira-2017" class="node cb"><rect x="731" y="1532" width="207" height="41"/><text x="834" y="1561" font-size="24">silveira (2017)</text></g>
<g id="n-runge-2017" class="node cb"><rect x="775" y="1568" width="184" height="44"/><text x="867" y="1599" font-size="24">runge (2017)</text></g>
<g id="n-lauka-2019" class="node cb"><rect x="964" y="1568" width="182" height="44"/><text x="1055" y="1599" font-size="24">lauka (2019)</text></g>
<g id="n-sakellaris-2021" class="node cw"><rect x="1405" y="1556" width="201" height="42"/><text x="1505" y="1585" font-size="22">sakellaris (2021)</text></g>
<g id="n-kuznecova-2018" class="node cb"><rect x="622" y="1650" width="215" height="38"/><text x="729" y="1677" font-size="21">kuznecova (2018)</text></g>
<g id="n-blumberga-2016" class="node cb"><rect x="705" y="1612" width="243" height="41"/><text x="826" y="1641" font-size="24">blumberga (2016)</text></g>
<g id="n-zihare-2017a" class="node cb"><rect x="627" y="1737" width="210" height="46"/><text x="732" y="1769" font-size="25">zihare (2017a)</text></g>
</g>
</svg>
